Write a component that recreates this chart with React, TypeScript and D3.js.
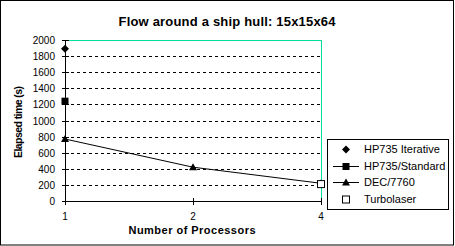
import React from "react";
import * as d3 from "d3";

const categories = ["1", "2", "4"];
const yTicks = [0, 200, 400, 600, 800, 1000, 1200, 1400, 1600, 1800, 2000];
const hp735Iterative: (number | null)[] = [1890, null, null];
const hp735Standard: (number | null)[] = [1240, null, null];
const dec7760: (number | null)[] = [770, 420, 220];
const turbolaser: (number | null)[] = [null, null, 210];
const seriesNames = ["HP735 Iterative", "HP735/Standard", "DEC/7760", "Turbolaser"];

const W = 455;
const H = 246;
const plot = { left: 65, right: 321, top: 40, bottom: 201 };
const teal = "#00dca0";
const font = "Arial, 'Liberation Sans', sans-serif";

function Marker({ kind, x, y }: { kind: string; x: number; y: number }) {
  if (kind === "diamond") {
    return <path d={`M${x},${y - 4}L${x + 4},${y}L${x},${y + 4}L${x - 4},${y}Z`} fill="#000" />;
  }
  if (kind === "square") {
    return <rect x={x - 3.5} y={y - 3.5} width={7} height={7} fill="#000" />;
  }
  if (kind === "triangle") {
    return <path d={`M${x},${y - 4}L${x + 4},${y + 3}L${x - 4},${y + 3}Z`} fill="#000" />;
  }
  return <rect x={x - 3.5} y={y - 3.5} width={7} height={7} fill="#fff" stroke="#000" strokeWidth={1} />;
}

export default function App() {
  const x = d3.scalePoint<string>().domain(categories).range([plot.left, plot.right]);
  const y = d3.scaleLinear().domain([0, 2000]).range([plot.bottom, plot.top]);

  const series = [
    { name: seriesNames[0], data: hp735Iterative, marker: "diamond", line: false },
    { name: seriesNames[1], data: hp735Standard, marker: "square", line: true },
    { name: seriesNames[2], data: dec7760, marker: "triangle", line: true },
    { name: seriesNames[3], data: turbolaser, marker: "hollow", line: false },
  ];

  const lineGen = d3
    .line<number | null>()
    .defined((d) => d !== null)
    .x((_, i) => x(categories[i]) as number)
    .y((d) => y(d as number));

  const legend = { x: 327, y: 139, w: 121, h: 70, rowH: 16.5 };

  return (
    <div style={{ position: "absolute", left: 0, top: 0 }}>
      <svg width={W} height={H} style={{ display: "block", background: "#fff" }}>
        <rect x={0.5} y={0.5} width={W - 2} height={H - 1.5} fill="#fff" stroke="#000" />
        <text
          x={227}
          y={26}
          textAnchor="middle"
          fontFamily={font}
          fontWeight="bold"
          fontSize={13}
          textLength={217}
          lengthAdjust="spacing"
        >
          Flow around a ship hull: 15x15x64
        </text>

        {/* gridlines */}
        {yTicks
          .filter((t) => t > 0 && t < 2000)
          .map((t) => (
            <line
              key={t}
              x1={plot.left}
              x2={plot.right}
              y1={Math.round(y(t)) + 0.5}
              y2={Math.round(y(t)) + 0.5}
              stroke="#000"
              strokeDasharray="3,3"
            />
          ))}
        {/* plot border top/right */}
        <line x1={plot.left} x2={plot.right + 0.5} y1={plot.top + 0.5} y2={plot.top + 0.5} stroke={teal} />
        <line x1={plot.right + 0.5} x2={plot.right + 0.5} y1={plot.top} y2={plot.bottom} stroke={teal} />

        {/* y axis */}
        <line x1={plot.left + 0.5} x2={plot.left + 0.5} y1={plot.top} y2={plot.bottom + 1} stroke="#000" />
        {yTicks.map((t) => (
          <g key={t}>
            <line
              x1={plot.left - 3}
              x2={plot.left + 4}
              y1={Math.round(y(t)) + 0.5}
              y2={Math.round(y(t)) + 0.5}
              stroke="#000"
            />
            <text
              x={55}
              y={Math.round(y(t)) + 4}
              textAnchor="end"
              fontFamily={font}
              fontSize={10}
            >
              {t}
            </text>
          </g>
        ))}

        {/* x axis */}
        <line x1={plot.left} x2={plot.right + 1} y1={plot.bottom + 0.5} y2={plot.bottom + 0.5} stroke="#000" />
        {categories.map((c) => (
          <g key={c}>
            <line
              x1={(x(c) as number) + 0.5}
              x2={(x(c) as number) + 0.5}
              y1={plot.bottom - 3}
              y2={plot.bottom + 4}
              stroke="#000"
            />
            <text x={x(c) as number} y={220} textAnchor="middle" fontFamily={font} fontSize={10}>
              {c}
            </text>
          </g>
        ))}

        <text
          x={192}
          y={234}
          textAnchor="middle"
          fontFamily={font}
          fontWeight="bold"
          fontSize={11}
          textLength={127}
          lengthAdjust="spacing"
        >
          Number of Processors
        </text>
        <text
          transform="translate(22,122) rotate(-90)"
          textAnchor="middle"
          fontFamily={font}
          fontWeight="bold"
          fontSize={10.5}
          textLength={72}
          lengthAdjust="spacing"
        >
          Elapsed time (s)
        </text>

        {/* series */}
        {series.map((s) => (
          <g key={s.name}>
            {s.line && <path d={lineGen(s.data) || ""} fill="none" stroke="#000" strokeWidth={1} />}
            {s.data.map((d, i) =>
              d === null ? null : (
                <Marker key={i} kind={s.marker} x={x(categories[i]) as number} y={y(d)} />
              )
            )}
          </g>
        ))}

        {/* legend */}
        <rect x={legend.x + 0.5} y={legend.y + 0.5} width={legend.w} height={legend.h} fill="#fff" stroke="#000" />
        {series.map((s, i) => {
          const cy = legend.y + 10 + i * legend.rowH;
          return (
            <g key={s.name}>
              {s.line && <line x1={333} x2={359} y1={Math.round(cy) + 0.5} y2={Math.round(cy) + 0.5} stroke="#000" />}
              <Marker kind={s.marker} x={346} y={Math.round(cy) + 0.5} />
              <text x={364} y={cy + 4} fontFamily={font} fontSize={11}>
                {s.name}
              </text>
            </g>
          );
        })}
      </svg>
    </div>
  );
}
